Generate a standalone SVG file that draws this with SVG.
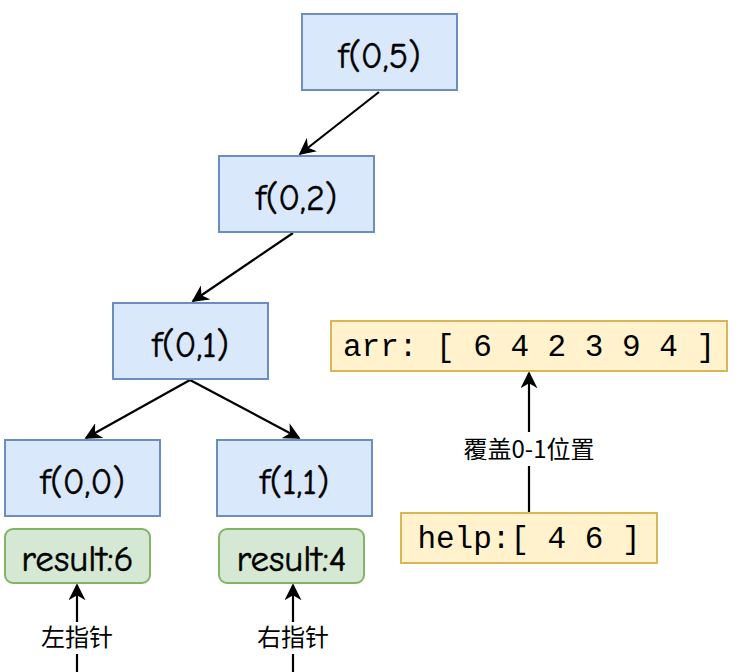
<svg xmlns="http://www.w3.org/2000/svg" width="739" height="672" viewBox="0 0 739 672">
<defs>
<style>
.fn rect{fill:#dae8fc;stroke:#6c8ebf;stroke-width:2}
.fn text{font-family:"Comic Neue","DejaVu Sans","Noto Sans",sans-serif;font-size:36px;fill:#000;text-anchor:middle;stroke:#000;stroke-width:0.4}
.res rect{fill:#d5e8d4;stroke:#82b366;stroke-width:2}
.res text{font-family:"Comic Neue","DejaVu Sans","Noto Sans",sans-serif;font-size:37px;fill:#000;text-anchor:middle;stroke:#000;stroke-width:0.5}
.arr rect{fill:#fff2cc;stroke:#d6b656;stroke-width:2}
.arr text{font-family:"Liberation Mono",monospace;font-size:31px;fill:#000;text-anchor:middle}
.edge{stroke:#000;stroke-width:2.2;fill:none}
.lbl{font-family:"Noto Sans CJK SC","Noto Sans",sans-serif;font-size:24px;fill:#000;text-anchor:middle}
.lblbg{fill:#fff}
</style>
<marker id="ahb" viewBox="0 0 10 10" refX="9" refY="5" markerWidth="17" markerHeight="17" markerUnits="userSpaceOnUse" orient="auto">
<path d="M0,0 L10,5 L0,10 L3,5 z" fill="#000"/>
</marker>
</defs>
<g id="connectors">
<line class="edge" x1="379" y1="92" x2="300" y2="154" marker-end="url(#ahb)"/>
<line class="edge" x1="293" y1="233" x2="193" y2="301" marker-end="url(#ahb)"/>
<line class="edge" x1="190" y1="380" x2="86" y2="438" marker-end="url(#ahb)"/>
<line class="edge" x1="190" y1="380" x2="299" y2="438" marker-end="url(#ahb)"/>
<line class="edge" x1="77" y1="672" x2="77" y2="585" marker-end="url(#ahb)"/>
<line class="edge" x1="293" y1="672" x2="293" y2="585" marker-end="url(#ahb)"/>
<line class="edge" x1="529" y1="513" x2="529" y2="373" marker-end="url(#ahb)"/>
<rect class="lblbg" x="37" y="622" width="80" height="32"/>
<text class="lbl" x="77" y="646">左指针</text>
<rect class="lblbg" x="253" y="622" width="80" height="32"/>
<text class="lbl" x="293" y="646">右指针</text>
<rect class="lblbg" x="460" y="432" width="138" height="34"/>
<text class="lbl" x="529" y="458">覆盖0-1位置</text>
</g>
<g id="f05" class="fn"><rect x="302" y="14" width="155" height="76"/><text x="379.5" y="68">f(0,5)</text></g>
<g id="f02" class="fn"><rect x="219" y="156" width="155" height="76"/><text x="296.5" y="210">f(0,2)</text></g>
<g id="f01" class="fn"><rect x="113" y="303" width="155" height="76"/><text x="190.5" y="357">f(0,1)</text></g>
<g id="f00" class="fn"><rect x="5" y="440" width="155" height="76"/><text x="82.5" y="494">f(0,0)</text></g>
<g id="f11" class="fn"><rect x="217" y="440" width="155" height="76"/><text x="294.5" y="494">f(1,1)</text></g>
<g id="res6" class="res"><rect x="5" y="529" width="145" height="54" rx="8"/><text x="77.5" y="571">result:6</text></g>
<g id="res4" class="res"><rect x="219" y="529" width="145" height="54" rx="8"/><text x="291.5" y="571">result:4</text></g>
<g id="arr" class="arr"><rect x="331" y="321" width="396" height="50"/><text x="529" y="356" xml:space="preserve">arr: [ 6 4 2 3 9 4 ]</text></g>
<g id="help" class="arr"><rect x="401" y="513" width="256" height="50"/><text x="529" y="548" xml:space="preserve">help:[ 4 6 ]</text></g>
</svg>
